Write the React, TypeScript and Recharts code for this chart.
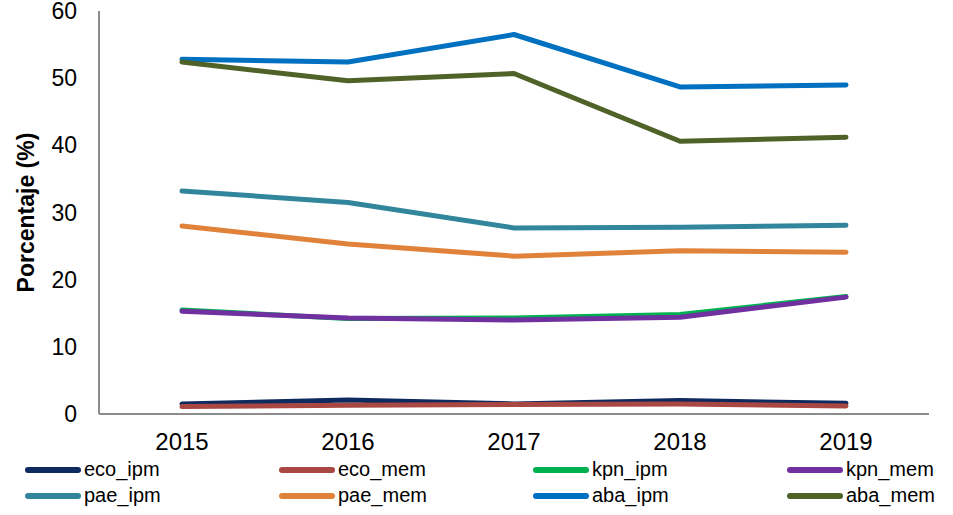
import React from "react";
import { LineChart, Line, XAxis, YAxis } from "recharts";

const YEARS = ["2015", "2016", "2017", "2018", "2019"];

const ECO_IPM = [1.5, 2.1, 1.5, 2.0, 1.6];
const ECO_MEM = [1.1, 1.3, 1.4, 1.5, 1.2];
const KPN_IPM = [15.5, 14.2, 14.3, 14.8, 17.5];
const KPN_MEM = [15.3, 14.3, 14.0, 14.4, 17.4];
const PAE_IPM = [33.2, 31.5, 27.7, 27.8, 28.1];
const PAE_MEM = [28.0, 25.3, 23.5, 24.3, 24.1];
const ABA_IPM = [52.8, 52.4, 56.5, 48.7, 49.0];
const ABA_MEM = [52.4, 49.6, 50.7, 40.6, 41.2];

const Y_TICKS = [0, 10, 20, 30, 40, 50, 60];

const SERIES = [
  { key: "eco_ipm", color: "#0F2A5E", values: ECO_IPM },
  { key: "eco_mem", color: "#A94743", values: ECO_MEM },
  { key: "kpn_ipm", color: "#00B050", values: KPN_IPM },
  { key: "kpn_mem", color: "#7030A0", values: KPN_MEM },
  { key: "pae_ipm", color: "#31869B", values: PAE_IPM },
  { key: "pae_mem", color: "#E0823A", values: PAE_MEM },
  { key: "aba_ipm", color: "#0070C0", values: ABA_IPM },
  { key: "aba_mem", color: "#4F6228", values: ABA_MEM },
];

const data = YEARS.map((year, i) => {
  const row: Record<string, string | number> = { year };
  SERIES.forEach((s) => {
    row[s.key] = s.values[i];
  });
  return row;
});

const FONT = "'Liberation Sans', Arial, sans-serif";
const AXIS_COLOR = "#8c8c8c";

// legend drawn as a 4x2 grid under the axis
const ChartLegend = () => (
  <div
    style={{
      position: "absolute",
      left: 25,
      top: 457,
      display: "grid",
      gridTemplateColumns: "repeat(4, 254px)",
      rowGap: 1,
      fontFamily: FONT,
      fontSize: 20,
      color: "#000",
    }}
  >
    {SERIES.map((s) => (
      <div key={s.key} style={{ display: "flex", alignItems: "center", height: 25 }}>
        <span
          style={{
            display: "inline-block",
            width: 56,
            height: 6,
            borderRadius: 3,
            background: s.color,
            marginRight: 3,
          }}
        />
        <span>{s.key}</span>
      </div>
    ))}
  </div>
);

export default function App() {
  return (
    <div
      style={{
        position: "absolute",
        left: 0,
        top: 0,
        width: 953,
        height: 515,
        background: "#fff",
        fontFamily: FONT,
      }}
    >
      <LineChart
        width={953}
        height={515}
        data={data}
        margin={{ top: 11, right: 24, left: 0, bottom: 0 }}
      >
        <XAxis
          dataKey="year"
          height={101}
          axisLine={{ stroke: AXIS_COLOR, strokeWidth: 2 }}
          tickLine={false}
          tickMargin={13}
          tick={{ fill: "#000", fontSize: 24, fontFamily: FONT }}
          padding={{ left: 0, right: 0 }}
          scale="band"
        />
        <YAxis
          width={99}
          domain={[0, 60]}
          ticks={Y_TICKS}
          interval={0}
          axisLine={{ stroke: AXIS_COLOR, strokeWidth: 2 }}
          tickLine={false}
          tickMargin={16}
          tick={{ fill: "#000", fontSize: 23, fontFamily: FONT }}
          label={{
            value: "Porcentaje (%)",
            angle: -90,
            position: "insideLeft",
            dx: 21,
            dy: 0,
            style: {
              textAnchor: "middle",
              fontWeight: "bold",
              fontSize: 23,
              fill: "#000",
              fontFamily: FONT,
            },
          }}
        />
        {SERIES.map((s) => (
          <Line
            key={s.key}
            type="linear"
            dataKey={s.key}
            stroke={s.color}
            strokeWidth={5}
            strokeLinecap="round"
            strokeLinejoin="round"
            dot={false}
            activeDot={false}
            isAnimationActive={false}
          />
        ))}
      </LineChart>
      <ChartLegend />
    </div>
  );
}
